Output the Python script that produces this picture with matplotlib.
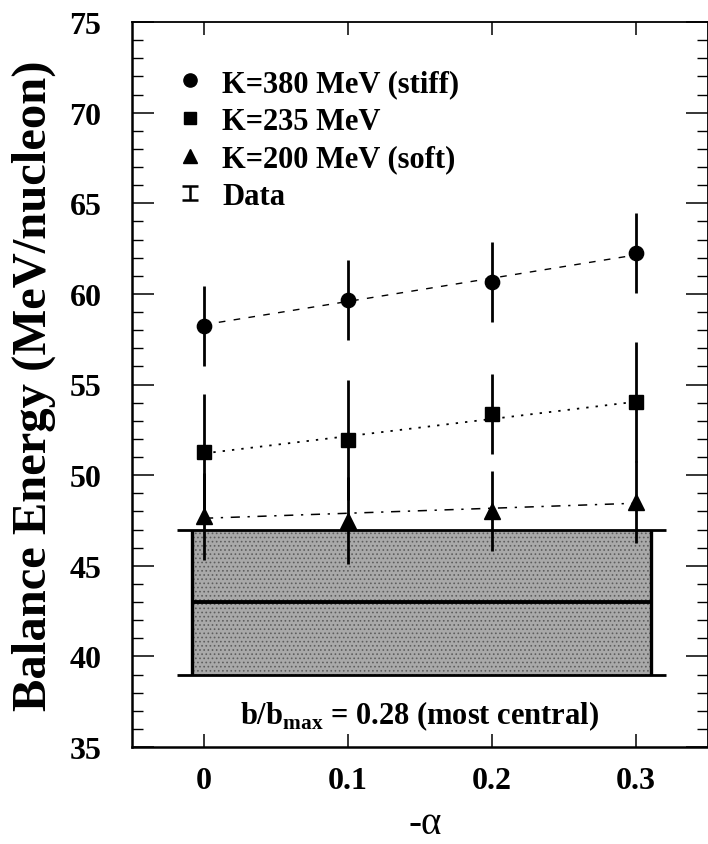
import numpy as np
import matplotlib
matplotlib.use("Agg")
import matplotlib.pyplot as plt
from matplotlib.lines import Line2D
from matplotlib.ticker import MultipleLocator
from matplotlib.container import ErrorbarContainer
from matplotlib.legend_handler import HandlerErrorbar

plt.rcParams['font.family'] = ['Liberation Serif', 'DejaVu Serif']
plt.rcParams['font.weight'] = 'bold'
plt.rcParams['mathtext.fontset'] = 'custom'
plt.rcParams['mathtext.rm'] = 'Liberation Serif:bold'
plt.rcParams['mathtext.bf'] = 'Liberation Serif:bold'
plt.rcParams['hatch.linewidth'] = 0.7

# --- values
alpha = [0.0, 0.1, 0.2, 0.3]
stiff_e = [58.24, 59.68, 60.64, 62.25]     # K=380 MeV
stiff_err = [2.2, 2.2, 2.2, 2.2]
mid_e = [51.26, 51.94, 53.37, 54.05]       # K=235 MeV
mid_err = [3.2, 3.3, 2.2, 3.3]
soft_e = [47.73, 47.49, 48.04, 48.53]      # K=200 MeV
soft_err = [2.4, 2.4, 2.2, 2.25]

# --- straight-line fits drawn through each set
fit_x = [0.0, 0.3]
stiff_fit = [58.3, 62.15]
mid_fit = [51.2, 54.05]
soft_fit = [47.62, 48.45]

# --- experimental band
data_x = [-0.0085, 0.3105]
data_cap_x = [-0.019, 0.321]
data_val = 43.0
data_err = 4.0

fig = plt.figure(figsize=(7.08, 8.45), dpi=100)
ax = fig.add_axes([132 / 708, 97 / 845, 576 / 708, 725 / 845])

# --- band
ax.fill_between(data_x, data_val - data_err, data_val + data_err,
                facecolor='#a9a9a9', edgecolor='#5e5e5e', hatch='....',
                linewidth=0, zorder=1)
ax.hlines([data_val - data_err, data_val + data_err], data_cap_x[0], data_cap_x[1],
          color='k', lw=2.0, zorder=2)
ax.vlines(data_x, data_val - data_err, data_val + data_err, color='k', lw=2.4, zorder=2)
ax.hlines(data_val, data_x[0], data_x[1], color='k', lw=2.8, zorder=2)

# --- fits
ax.plot(fit_x, stiff_fit, color='k', lw=1.0, dashes=(4.8, 6), zorder=3)
ax.plot(fit_x, mid_fit, color='k', lw=1.3, dashes=(1.3, 3.9), zorder=3)
ax.plot(fit_x, soft_fit, color='k', lw=1.1, dashes=(6, 5, 1.5, 5), zorder=3)

# --- model points
ax.errorbar(alpha, stiff_e, yerr=stiff_err, fmt='o', color='k', ms=10.3,
            elinewidth=2.0, capsize=0, zorder=4)
ax.errorbar(alpha, mid_e, yerr=mid_err, fmt='s', color='k', ms=10.5,
            elinewidth=2.0, capsize=0, zorder=4)
ax.errorbar(alpha, soft_e, yerr=soft_err, fmt='^', color='k', ms=11.5,
            elinewidth=2.0, capsize=0, zorder=4)

# --- legend
dummy = ax.errorbar([np.nan], [np.nan], yerr=[1], fmt='none', ecolor='k',
                    elinewidth=1.8, capsize=6, capthick=1.8)
handles = [Line2D([], [], marker='o', ls='none', color='k', ms=9.5),
           Line2D([], [], marker='s', ls='none', color='k', ms=8.5),
           Line2D([], [], marker='^', ls='none', color='k', ms=9.5),
           dummy]
labels = ['K=380 MeV (stiff)', 'K=235 MeV', 'K=200 MeV (soft)', 'Data']
ax.legend(handles, labels, loc='upper left', bbox_to_anchor=(0.074, 0.935),
          frameon=False, fontsize=22, handlelength=1.0, handletextpad=0.55,
          labelspacing=0.28, borderpad=0, borderaxespad=0,
          handler_map={ErrorbarContainer: HandlerErrorbar(yerr_size=0.22)})

ax.text(0.15, 36.3, r'b/b$_{\mathbf{max}}$ = 0.28 (most central)', ha='center',
        va='baseline', fontsize=22)

ax.set_xlim(-0.05, 0.35)
ax.set_ylim(35, 75)
ax.set_xticks(alpha)
ax.set_xticklabels(['0', '0.1', '0.2', '0.3'])
ax.yaxis.set_major_locator(MultipleLocator(5))
ax.yaxis.set_minor_locator(MultipleLocator(1))
ax.tick_params(which='both', direction='in', top=True, right=True, labelsize=23)
ax.tick_params(axis='x', which='major', length=9.5, width=1.1, pad=14)
ax.tick_params(axis='y', which='major', length=16, width=1.1, pad=22)
ax.tick_params(axis='y', which='minor', length=8, width=1.0)
for lbl in ax.get_xticklabels() + ax.get_yticklabels():
    lbl.set_fontweight('bold')
for side in ['left', 'bottom']:
    ax.spines[side].set_linewidth(1.8)
for side in ['top', 'right']:
    ax.spines[side].set_linewidth(1.3)

ax.set_ylabel('Balance Energy (MeV/nucleon)', fontsize=35, fontweight='bold', va='center')
ax.yaxis.set_label_coords(-0.17, 0.5)
ax.set_xlabel('-α', fontsize=28, fontweight='normal', va='center')
ax.xaxis.set_label_coords(0.509, -0.105)

fig.savefig('out.png', dpi=100)
